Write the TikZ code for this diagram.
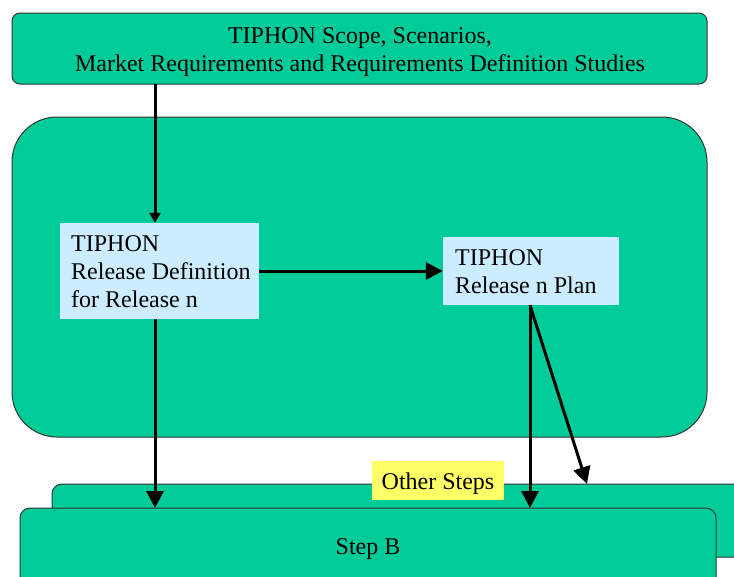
\documentclass[tikz,border=0pt]{standalone}
\usepackage{fontspec}
\setmainfont{Liberation Serif}
\usetikzlibrary{arrows.meta}
\definecolor{tgreen}{HTML}{00CC99}
\definecolor{tblue}{HTML}{CCECFF}
\definecolor{tyellow}{HTML}{FFFF66}
\definecolor{tedge}{HTML}{333333}
\begin{document}
\begin{tikzpicture}[x=1pt,y=-1pt,
  greenbox/.style={draw=tedge,line width=1pt,fill=tgreen},
  bluebox/.style={fill=tblue,inner sep=0pt},
  arr/.style={line width=3pt,-{Triangle[length=17pt,width=17pt]}},
  smallarr/.style={line width=3pt,-{Triangle[length=10pt,width=11pt]}},
  txt/.style={font=\fontsize{24}{28}\selectfont,inner sep=0pt}]
\useasboundingbox (0,0) rectangle (734,576);
% other steps (behind)
\draw[greenbox,rounded corners=10pt] (52,557) -- (52,484) -- (760,484) -- (760,557) -- cycle;
\node[txt,fill=tyellow,minimum width=132pt,minimum height=39pt] (other) at (438,480.5) {};
\node[txt,anchor=base] (otherl) at (438,489) {Other Steps};
% step B
\draw[greenbox,rounded corners=10pt] (20,600) rectangle (716,508);
\node[txt,anchor=base] (stepb) at (368,554) {Step B};
\coordinate (sbL) at (155,508);
\coordinate (sbR) at (530,508);
\coordinate (osT) at (587,484);
% top box
\draw[greenbox,rounded corners=8pt] (12,13) rectangle (707,84);
\node[txt,align=center,anchor=north] (scope) at (360,27) {TIPHON Scope, Scenarios,\\Market Requirements and Requirements Definition Studies};
\coordinate (scopeB) at (155,84);
% big box
\draw[greenbox,rounded corners=45pt] (12,117) rectangle (707,437);
% blue boxes
\node[bluebox,minimum width=199pt,minimum height=96pt] (rd) at (159.5,271) {};
\node[txt,align=left,anchor=north west] (rdt) at (71,235) {TIPHON\\Release Definition\\for Release n};
\node[bluebox,minimum width=176pt,minimum height=68pt] (rp) at (531,271) {};
\node[txt,align=left,anchor=north west] (rpt) at (455,249) {TIPHON\\Release n Plan};
% arrows
\draw[smallarr] (scopeB) -- (rd.north -| scopeB);
\draw[arr] (rd.east) -- (rp.west);
\draw[arr] (rd.south -| sbL) -- (sbL);
\draw[arr] (rp.south -| sbR) -- (sbR);
\draw[arr] (rp.south -| sbR) -- (osT);
\end{tikzpicture}
\end{document}
